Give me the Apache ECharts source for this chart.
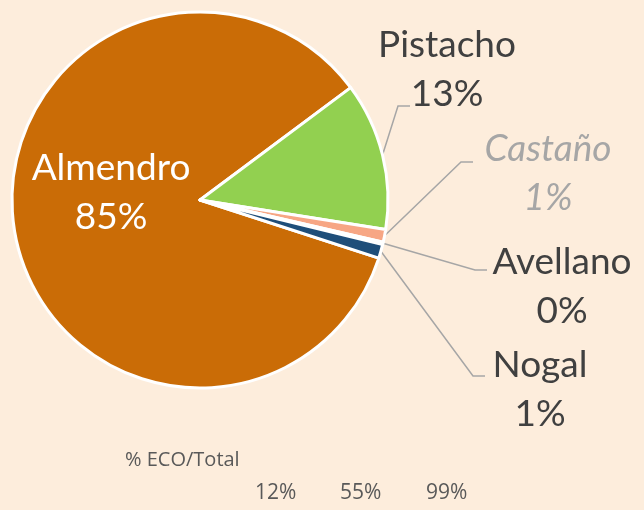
<!DOCTYPE html>
<html>
<head>
<meta charset="utf-8">
<script src="https://cdn.jsdelivr.net/npm/echarts@6/dist/echarts.min.js"></script>
<style>
  html, body { margin: 0; padding: 0; background: #fdeddc; }
  #pieChart { width: 644px; height: 510px; }
</style>
</head>
<body>
<div id="pieChart"></div>
<script>
  var categories = ['Almendro', 'Pistacho', 'Castaño', 'Avellano', 'Nogal'];
  var values = [84.8, 12.7, 1.1, 0.2, 1.2];
  var colors = ['#ca6c06', '#92d050', '#f7a684', '#f2c9a5', '#1f4e79'];
  var ecoTitle = '% ECO/Total';
  var ecoValues = ['12%', '55%', '99%'];

  // where each label block sits (centre of the block) and where its leader line ends
  var labelPos = [[111, 193], [447, 70], [548, 174], [562, 287], [540, 390]];
  var leaderEnd = [null, [410, 106], [473, 162], [487, 270], [485, 376]];

  var myChart = echarts.init(document.getElementById('pieChart'));
  var data = [];
  categories.forEach(function (c, i) {
    var item = { name: c, value: values[i], itemStyle: { color: colors[i] } };
    if (i == 0) {
      item.label = { position: 'inside', color: '#ffffff' };
      item.labelLine = { show: false };
    }
    if (i == 2) {
      item.label = { color: '#a6a6a6', fontStyle: 'italic' };
    }
    data.push(item);
  });

  var ecoText = [{
    type: 'text', left: 125, top: 450,
    style: { text: ecoTitle, fill: '#595959', font: '20px "Open Sans", sans-serif' }
  }];
  var ecoX = [255, 340, 426];
  ecoValues.forEach(function (v, i) {
    ecoText.push({
      type: 'text', left: ecoX[i], top: 483,
      style: { text: v, fill: '#595959', font: '21px "Open Sans", sans-serif' }
    });
  });

  var option = {
    backgroundColor: '#fdeddc',
    graphic: ecoText,
    series: [{
      type: 'pie',
      center: [200, 200],
      radius: 188,
      startAngle: 342,
      clockwise: true,
      percentPrecision: 0,
      animation: false,
      data: data,
      itemStyle: { borderColor: '#ffffff', borderWidth: 3 },
      label: {
        show: true,
        position: 'outside',
        formatter: '{b}\n{d}%',
        color: '#404040',
        fontFamily: 'Lato, sans-serif',
        fontSize: 37,
        lineHeight: 49,
        align: 'center'
      },
      labelLine: {
        show: true,
        length: 20,
        length2: 10,
        lineStyle: { color: '#a6a6a6', width: 1.5 }
      },
      labelLayout: function (params) {
        var i = params.dataIndex;
        var p = labelPos[i];
        var res = { x: p[0], y: p[1], align: 'center', verticalAlign: 'middle' };
        var e = leaderEnd[i];
        if (e && params.labelLinePoints) {
          res.labelLinePoints = [params.labelLinePoints[0], [e[0] - 12, e[1]], e];
        }
        return res;
      }
    }]
  };

  myChart.setOption(option);
</script>
</body>
</html>
